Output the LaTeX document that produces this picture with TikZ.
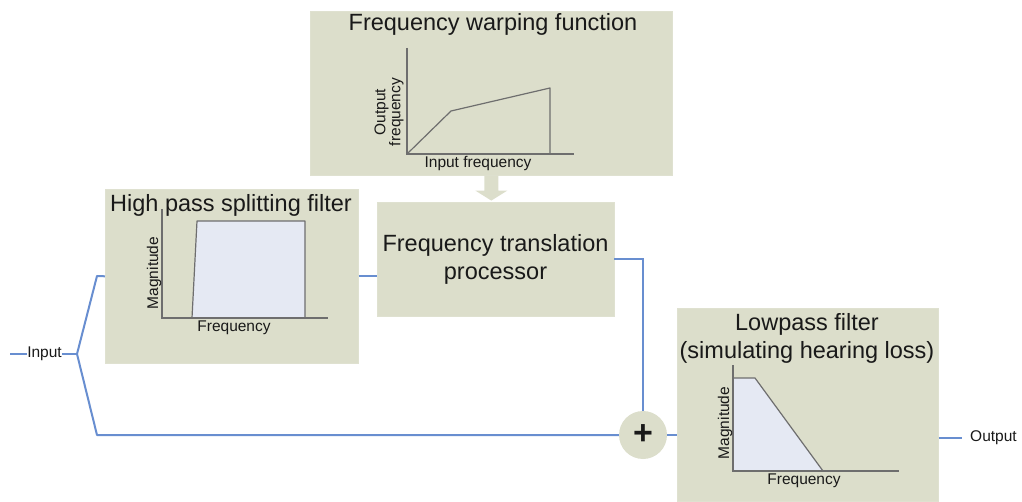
\documentclass[tikz,border=0pt]{standalone}
\usepackage{fontspec}
\setmainfont{Liberation Sans}
\usetikzlibrary{calc}
\definecolor{boxfill}{RGB}{220,222,203}
\definecolor{wire}{RGB}{104,142,208}
\definecolor{axisgray}{RGB}{110,110,110}
\definecolor{bandfill}{RGB}{229,233,243}
\definecolor{ink}{RGB}{25,25,25}
\tikzset{
  block/.style={fill=boxfill, draw=boxfill!90!white, line width=0.6pt, inner sep=0pt, anchor=north west},
  title/.style={font=\fontsize{23.5}{28}\selectfont, text=ink, align=center, inner sep=0pt},
  small/.style={font=\fontsize{15.5}{17}\selectfont, text=ink, inner sep=0pt},
  axis/.style={draw=axisgray, line width=1.2pt},
  band/.style={fill=bandfill, draw=axisgray, line width=1.2pt, line join=round},
  signal/.style={draw=wire, line width=2pt},
}
\begin{document}
\begin{tikzpicture}[x=1pt,y=-1pt]
\useasboundingbox (0,0) rectangle (1022,502);

% processing blocks
\node[block, minimum width=362pt, minimum height=164pt] (warp) at (310,11) {};
\node[block, minimum width=253pt, minimum height=174pt] (hp) at (105,189) {};
\node[block, minimum width=237pt, minimum height=114pt, anchor=center,
      font=\fontsize{23.5}{28}\selectfont, text=ink, align=center] (ft) at (495.5,259)
  {Frequency translation\\processor};
\node[block, minimum width=261pt, minimum height=193pt] (lp) at (677,308) {};
\node[circle, fill=boxfill, minimum size=48pt, inner sep=0pt, text=ink,
      font=\bfseries\fontsize{34}{34}\selectfont] (plus) at (643,435) {+};

% block titles
\node[title] (warpT) at (493,24) {Frequency warping function};
\node[title] (hpT) at (231,205) {High pass splitting filter};
\node[title] (lpT1) at (807,324) {Lowpass filter};
\node[title] (lpT2) at (807,352) {(simulating hearing loss)};

% warping function plot
\draw[axis] (407,48) -- (407,154) -- (574,154);
\draw[axis, line join=round] (407,154) -- (451,111) -- (550,88) -- (550,154);
\node[small] (warpX) at (478,164) {Input frequency};
\node[small, rotate=90, align=center, font=\fontsize{15.5}{15}\selectfont] (warpY) at (389,112) {Output\\frequency};

% high pass response
\draw[band] (192,318) -- (197,221) -- (305,221) -- (305,318) -- cycle;
\draw[axis] (162,209) -- (162,318) -- (328,318);
\node[small] (hpX) at (234,328) {Frequency};
\node[small, rotate=90] (hpY) at (154,273) {Magnitude};

% lowpass response
\draw[band] (733,471) -- (733,378) -- (755,378) -- (823,471) -- cycle;
\draw[axis] (733,365) -- (733,471) -- (899,471);
\node[small] (lpX) at (804,481) {Frequency};
\node[small, rotate=90] (lpY) at (725,423) {Magnitude};

% block arrow from the warping function into the translation processor
\fill[boxfill] ($(warp.south)+(-7,0)$) -- ($(warp.south)+(7,0)$) -- ($(warp.south)+(7,15)$)
  -- ($(warp.south)+(16,15)$) -- ($(warp.south)+(0,25)$) -- ($(warp.south)+(-16,15)$)
  -- ($(warp.south)+(-7,15)$) -- cycle;

% input and output
\coordinate (inStart) at (10,354);
\node[small] (inp) at (44.5,354) {Input};
\coordinate (split) at (77,354);
\coordinate (upBend) at (97,276);
\coordinate (downBend) at (97,435);
\coordinate (outEnd) at (962,438);
\node[small, anchor=west] (outp) at (970,438) {Output};

% signal paths
\draw[signal] (inStart) -- (inp.west);
\draw[signal] (inp.east) -- (split);
\draw[signal, line join=round] (split) -- (upBend) -- (hp.west);
\draw[signal, line join=round] (split) -- (downBend) -- (plus.west);
\draw[signal] (hp.east) -- (hp.east -| ft.west);
\draw[signal] (ft.east) -- (ft.east -| plus.north) -- (plus.north);
\draw[signal] (plus.east) -- (plus.east -| lp.west);
\draw[signal] (lp.east |- outEnd) -- (outEnd);
\end{tikzpicture}
\end{document}
